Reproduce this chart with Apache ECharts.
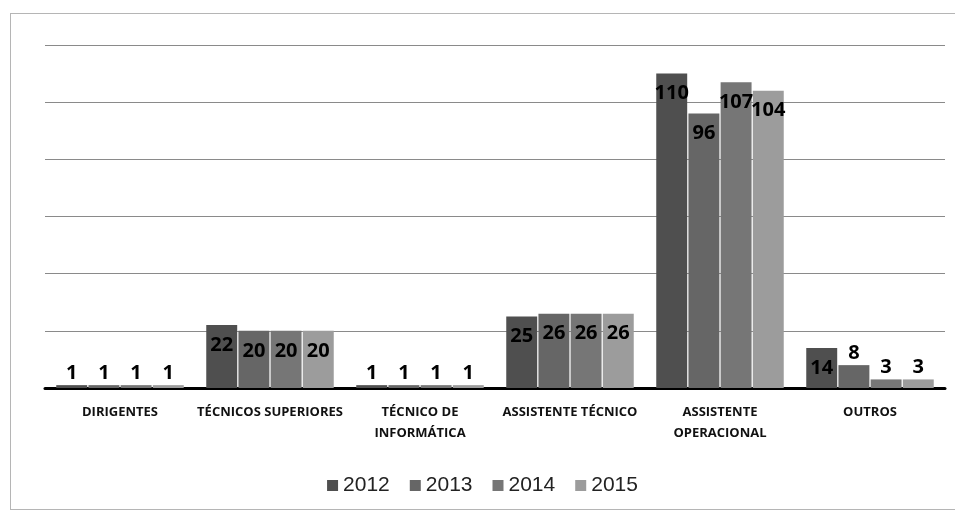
<!DOCTYPE html>
<html>
<head>
<meta charset="utf-8">
<script src="https://cdn.jsdelivr.net/npm/echarts@6/dist/echarts.min.js"></script>
<style>
html,body{margin:0;padding:0;background:#fff;}
#wrap{position:relative;width:965px;height:521px;}
#frame{position:absolute;left:10px;top:13px;width:945px;height:497px;border:1px solid #b5b5b5;border-right:none;box-sizing:border-box;}
#chart{position:absolute;left:0;top:0;width:965px;height:521px;}
</style>
</head>
<body>
<div id="wrap"><div id="frame"></div><div id="chart"></div></div>
<script>
const categories = ['DIRIGENTES', 'TÉCNICOS SUPERIORES', 'TÉCNICO DE\nINFORMÁTICA', 'ASSISTENTE TÉCNICO', 'ASSISTENTE\nOPERACIONAL', 'OUTROS'];
const years = ['2012', '2013', '2014', '2015'];
const values2012 = [1, 22, 1, 25, 110, 14];
const values2013 = [1, 20, 1, 26, 96, 8];
const values2014 = [1, 20, 1, 26, 107, 3];
const values2015 = [1, 20, 1, 26, 104, 3];
const yTicks = [0, 20, 40, 60, 80, 100, 120];

const seriesValues = [values2012, values2013, values2014, values2015];
const colors = ['#4f4f4f', '#666666', '#767676', '#9c9c9c'];

const chart = echarts.init(document.getElementById('chart'));
chart.setOption({
  animation: false,
  color: colors,
  grid: { left: 45, right: 20, top: 45, bottom: 133, containLabel: false },
  legend: {
    bottom: 20,
    left: 'center',
    itemWidth: 11,
    itemHeight: 11,
    itemGap: 20,
    icon: 'rect',
    textStyle: { fontFamily: 'Liberation Sans', fontSize: 21, color: '#222' },
    data: years
  },
  xAxis: {
    type: 'category',
    data: categories,
    axisLine: { show: true, lineStyle: { color: '#000', width: 3 } },
    axisTick: { show: false },
    axisLabel: {
      interval: 0,
      margin: 14,
      fontFamily: 'Open Sans',
      fontWeight: 'bold',
      fontSize: 13,
      color: '#111',
      lineHeight: 21
    }
  },
  yAxis: {
    type: 'value',
    min: yTicks[0],
    max: yTicks[yTicks.length - 1],
    interval: 20,
    axisLabel: { show: false },
    axisLine: { show: false },
    axisTick: { show: false },
    splitLine: { lineStyle: { color: '#8a8a8a', width: 1 } }
  },
  series: years.map((y, i) => ({
    name: y,
    type: 'bar',
    barGap: '4%',
    barCategoryGap: '15%',
    data: seriesValues[i].map(v => ({
      value: v,
      label: v < 10 ? { position: 'top', distance: 2 } : { position: 'insideTop', distance: 10 }
    })),
    label: {
      show: true,
      fontFamily: 'Open Sans',
      fontWeight: 'bold',
      fontSize: 20,
      color: '#000'
    }
  }))
});
</script>
</body>
</html>
